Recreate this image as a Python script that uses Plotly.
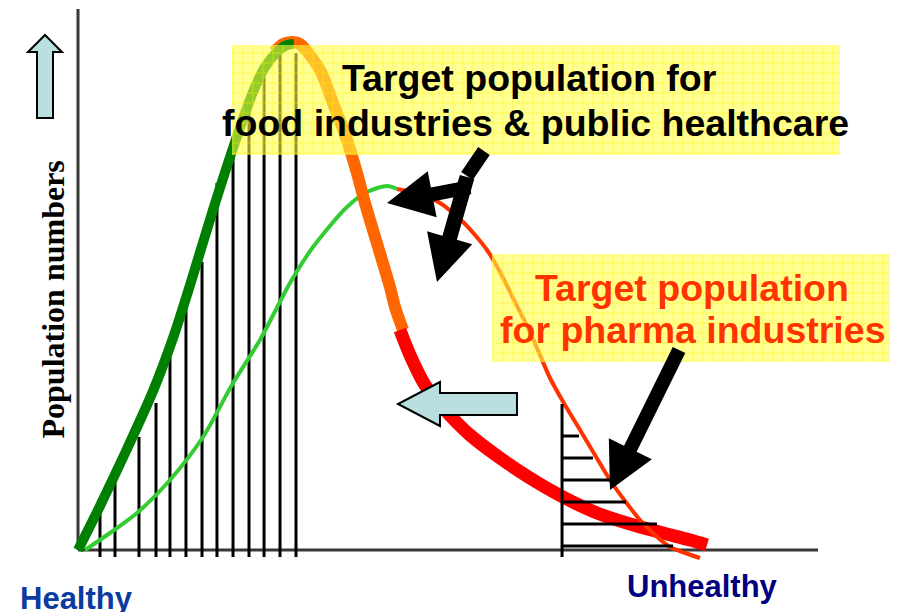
import math
import plotly.graph_objects as go

# ---------------- data (x: health status 0=healthy .. 100=unhealthy; y: population numbers) -------------
# thick curve = current population, drawn in three coloured segments
healthy_x = [0, 2.97, 6.62, 10.14, 12.84, 15.14, 18.24, 20.95, 23.65, 25.27, 26.89, 28.24, 29.19]
healthy_y = [0, 8.8, 20.2, 31.8, 42.4, 53.0, 68.0, 80.4, 91.6, 96.6, 99.6, 101.0, 101.2]

atrisk_x = [26.5, 27.7, 29.0, 30.0, 32.7, 34.46, 36.35, 37.7, 38.78, 39.86, 41.08, 42.16, 42.84, 43.92]
atrisk_y = [99.6, 101.2, 101.6, 101.2, 96.0, 89.4, 82.0, 75.4, 69.4, 64.0, 58.0, 52.6, 48.6, 44.0]

ill_x = [43.51, 44.86, 46.89, 49.59, 52.97, 57.03, 61.08, 65.54, 70.14, 74.59, 79.05, 82.7, 85.0]
ill_y = [44.0, 39.0, 33.0, 28.0, 23.0, 18.4, 14.4, 10.6, 7.4, 5.2, 3.4, 2.0, 1.0]

# thin curve = shifted population
shift_healthy_x = [0.95, 4.32, 7.97, 12.43, 16.89, 20.95, 24.59, 28.65, 31.76, 36.35, 39.05, 41.76, 43.11]
shift_healthy_y = [0, 3.4, 7.4, 14.0, 22.6, 33.4, 42.0, 53.4, 60.6, 68.6, 71.6, 72.8, 72.2]

shift_ill_x = [43.11, 46.22, 48.92, 52.03, 53.65, 55.27, 57.03, 58.78, 60.41, 62.03, 63.78, 65.81,
               67.84, 69.86, 71.89, 73.92, 75.95, 77.97, 80.0, 82.03, 84.05]
shift_ill_y = [72.2, 71.2, 69.4, 65.6, 63.0, 60.0, 55.6, 50.4, 45.6, 40.4, 34.4, 29.0,
               24.0, 19.0, 14.0, 9.8, 6.0, 3.0, 0.6, -0.6, -1.6]

# vertical hatching under the healthy part
hatch_x = [2.97, 5.0, 8.24, 10.54, 12.43, 14.59, 16.76, 18.78, 20.95, 23.11, 25.14, 27.3, 29.46]
hatch_top = [7.4, 14.0, 22.6, 29.4, 40.0, 49.0, 57.6, 73.4, 80.0, 90.6, 94.6, 99.4, 99.4]
hatch_base = -1.4

# horizontal hatching under the shifted ill tail
rhatch_x0 = 65.41
rhatch_top = 29.2
rhatch_y = [22.8, 18.4, 14.0, 9.6, 5.2, 0.8]
rhatch_end = [67.7, 69.59, 71.89, 74.05, 78.24, 80.41]

# text
label_food = ["Target population for", "food industries & public healthcare"]
label_pharma = ["Target population", "for pharma industries"]
label_yaxis = "Population numbers"
label_left = "Healthy"
label_right = "Unhealthy"

# ---------------- layout geometry -----------------------------------------------------------------------
# the page body keeps its default 8px margin, so the figure is 8px smaller than the window
W, H = 902, 604
XR = [-9.4595, 112.4324]
YR = [-12.4, 108.4]
SX = W / (XR[1] - XR[0])
SY = H / (YR[1] - YR[0])

fig = go.Figure()

# left hatching
hx, hy = [], []
for x, t in zip(hatch_x, hatch_top):
    hx += [x, x, None]
    hy += [hatch_base, t, None]
fig.add_trace(go.Scatter(x=hx, y=hy, mode="lines", line=dict(color="black", width=3),
                         hoverinfo="skip", showlegend=False))

spl = dict(shape="spline", smoothing=0.8)
fig.add_trace(go.Scatter(x=shift_healthy_x, y=shift_healthy_y, mode="lines",
                         line=dict(color="#33CC33", width=4, **spl), showlegend=False))
fig.add_trace(go.Scatter(x=atrisk_x, y=atrisk_y, mode="lines",
                         line=dict(color="#FF6600", width=12, **spl), showlegend=False))
fig.add_trace(go.Scatter(x=healthy_x, y=healthy_y, mode="lines",
                         line=dict(color="#008000", width=10, **spl), showlegend=False))
fig.add_trace(go.Scatter(x=ill_x, y=ill_y, mode="lines",
                         line=dict(color="#FF0000", width=13, **spl), showlegend=False))
fig.add_trace(go.Scatter(x=shift_ill_x, y=shift_ill_y, mode="lines",
                         line=dict(color="#FF3300", width=4, **spl), showlegend=False))

# right hatching
rx = [rhatch_x0, rhatch_x0, None]
ry = [hatch_base, rhatch_top, None]
for y, e in zip(rhatch_y, rhatch_end):
    rx += [rhatch_x0, e, None]
    ry += [y, y, None]
fig.add_trace(go.Scatter(x=rx, y=ry, mode="lines", line=dict(color="black", width=3),
                         hoverinfo="skip", showlegend=False))

# yellow highlight boxes with a grid pattern
boxes = [(20.81, 102.97, 79.0, 101.0), (55.95, 109.73, 37.6, 59.2)]
for x0, x1, y0, y1 in boxes:
    fig.add_trace(go.Scatter(
        x=[x0, x1, x1, x0, x0], y=[y0, y0, y1, y1, y0], mode="lines", fill="toself",
        line=dict(width=0, color="rgba(0,0,0,0)"),
        fillpattern=dict(shape="+", size=10, solidity=0.2,
                         bgcolor="rgba(255,255,70,0.58)", fgcolor="rgba(255,245,0,0.9)"),
        hoverinfo="skip", showlegend=False))


def arrow_path(tail, tip, shaft, head_w, head_l):
    x0, y0 = tail[0] * SX, tail[1] * SY
    x1, y1 = tip[0] * SX, tip[1] * SY
    dx, dy = x1 - x0, y1 - y0
    L = math.hypot(dx, dy)
    ux, uy = dx / L, dy / L
    nx, ny = -uy, ux
    bx, by = x1 - ux * head_l, y1 - uy * head_l
    if head_l == 0:
        pts = [(x0 + nx * shaft / 2, y0 + ny * shaft / 2), (x1 + nx * shaft / 2, y1 + ny * shaft / 2),
               (x1 - nx * shaft / 2, y1 - ny * shaft / 2), (x0 - nx * shaft / 2, y0 - ny * shaft / 2)]
    else:
        pts = [(x0 + nx * shaft / 2, y0 + ny * shaft / 2), (bx + nx * shaft / 2, by + ny * shaft / 2),
               (bx + nx * head_w / 2, by + ny * head_w / 2), (x1, y1),
               (bx - nx * head_w / 2, by - ny * head_w / 2), (bx - nx * shaft / 2, by - ny * shaft / 2),
               (x0 - nx * shaft / 2, y0 - ny * shaft / 2)]
    return "M " + " L ".join(f"{px / SX:.3f},{py / SY:.3f}" for px, py in pts) + " Z"


shapes = [
    # axes
    dict(type="line", x0=0, y0=0, x1=100, y1=0, line=dict(color="#383838", width=3), layer="below"),
    dict(type="line", x0=0, y0=0, x1=0, y1=108.2, line=dict(color="#383838", width=3), layer="below"),
]
black_arrows = [
    ((54.86, 79.8), (52.57, 74.8), 14, 0, 0),
    ((52.97, 72.6), (41.76, 69.4), 14, 47, 46),
    ((52.57, 74.6), (48.51, 53.6), 15, 47, 46),
    ((81.22, 40.0), (71.89, 12.0), 14, 48, 46),
]
for tail, tip, sw, hw, hl in black_arrows:
    shapes.append(dict(type="path", path=arrow_path(tail, tip, sw, hw, hl),
                       fillcolor="black", line=dict(width=0), xref="x", yref="y"))
blue_arrows = [
    ((59.32, 29.2), (43.24, 29.2), 22, 44, 42),
    ((-4.46, 86.4), (-4.46, 103.0), 16, 34, 17),
]
for tail, tip, sw, hw, hl in blue_arrows:
    shapes.append(dict(type="path", path=arrow_path(tail, tip, sw, hw, hl),
                       fillcolor="#B9DFE0", line=dict(width=2, color="black"), xref="x", yref="y"))

sans = "Liberation Sans, Arial, sans-serif"
annotations = [
    dict(x=61.08, y=94.4, text=f"<b>{label_food[0]}</b>", font=dict(family=sans, size=37.5, color="black")),
    dict(x=61.76, y=85.4, text=f"<b>{label_food[1]}</b>", font=dict(family=sans, size=37.5, color="black")),
    dict(x=82.97, y=52.4, text=f"<b>{label_pharma[0]}</b>", font=dict(family=sans, size=37.5, color="#FF3300")),
    dict(x=83.11, y=44.0, text=f"<b>{label_pharma[1]}</b>", font=dict(family=sans, size=37.5, color="#FF3300")),
    dict(x=-3.38, y=50.1, text=f"<b>{label_yaxis}</b>", textangle=-90,
         font=dict(family="Liberation Serif, Times New Roman, serif", size=32, color="black")),
    dict(x=-0.2, y=-9.6, text=f"<b>{label_left}</b>", font=dict(family=sans, size=31, color="#0B3B9E")),
    dict(x=84.39, y=-7.2, text=f"<b>{label_right}</b>", font=dict(family=sans, size=31, color="#000080")),
]
for a in annotations:
    a.update(xref="x", yref="y", showarrow=False, xanchor="center", yanchor="middle")

fig.update_layout(
    width=W, height=H, margin=dict(l=0, r=0, t=0, b=0),
    paper_bgcolor="white", plot_bgcolor="white",
    xaxis=dict(range=XR, visible=False, fixedrange=True),
    yaxis=dict(range=YR, visible=False, fixedrange=True),
    shapes=shapes, annotations=annotations, showlegend=False,
)

fig.write_html("out.html")
